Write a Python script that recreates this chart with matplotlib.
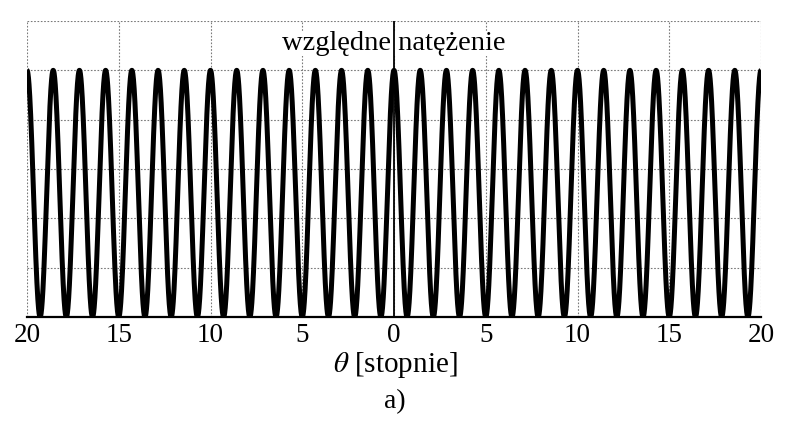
import numpy as np
import matplotlib
matplotlib.use("Agg")
import matplotlib.pyplot as plt

plt.rcParams['font.family'] = ['Liberation Serif', 'DejaVu Serif']
plt.rcParams['mathtext.fontset'] = 'stix'

# values
theta_range = [-20, 20]          # degrees
fringes_0_to_20 = 14             # bright fringes counted between 0 and 20 deg
peak_intensity = 1.0
tick_pos = [-20, -15, -10, -5, 0, 5, 10, 15, 20]
tick_labels = ["20", "15", "10", "5", "0", "5", "10", "15", "20"]
y_grid = [0.2, 0.4, 0.6, 0.8, 1.0, 1.2]

period = theta_range[1] / fringes_0_to_20
theta = np.linspace(theta_range[0], theta_range[1], 4000)
intensity = peak_intensity * np.cos(np.pi * theta / period) ** 2

fig = plt.figure(figsize=(8, 4.41), dpi=100)
ax = fig.add_axes([0.03375, 0.2812, 0.9175, 0.6712])

ax.plot(theta, intensity, color="black", lw=3.6, solid_capstyle="butt", zorder=3)
ax.set_xlim(theta_range)
ax.set_ylim(0, 1.2)

# dotted grid (Mathematica style)
for xv in tick_pos:
    ax.axvline(xv, color="#7a7a7a", lw=0.8, ls=(0, (1.5, 1.5)), zorder=1)
for yv in y_grid:
    ax.axhline(yv, color="#7a7a7a", lw=0.8, ls=(0, (1.5, 1.5)), zorder=1)

for s in ["top", "left", "right"]:
    ax.spines[s].set_visible(False)
ax.spines["bottom"].set_linewidth(1.6)
ax.spines["bottom"].set_zorder(5)

ax.set_yticks([])
ax.set_xticks(tick_pos)
ax.set_xticklabels(tick_labels, fontsize=19.5)
ax.tick_params(axis="x", length=0, pad=4)

ax.text(0, 1.11, "względne natężenie", ha="center", va="center", fontsize=20.5,
        bbox=dict(facecolor="white", edgecolor="none", pad=0), zorder=2)
ax.axvline(0, color="black", lw=1.3, zorder=4)

fig.text(0.494, (441 - 365) / 441, r"$\theta$ [stopnie]", ha="center", va="center", fontsize=21)
fig.text(0.494, (441 - 402) / 441, "a)", ha="center", va="center", fontsize=20)

fig.savefig("out.png", dpi=100, facecolor="white")
